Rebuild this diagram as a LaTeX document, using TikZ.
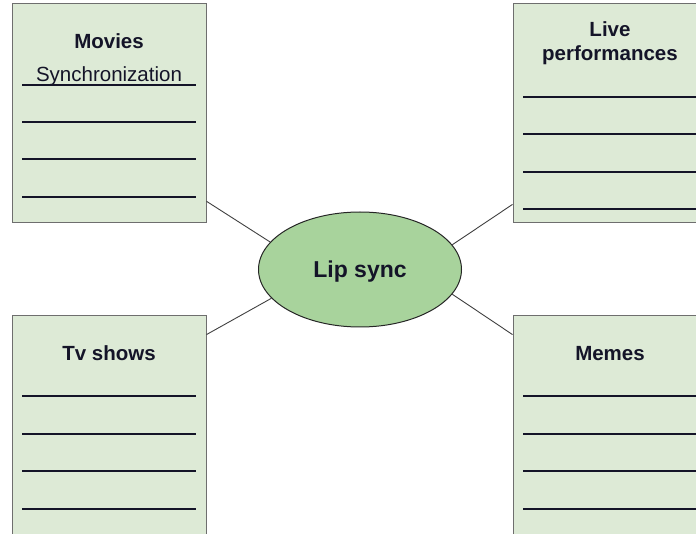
\documentclass[tikz,border=0pt]{standalone}
\usepackage{fontspec}
\setmainfont{Liberation Sans}
\usetikzlibrary{shapes.geometric}
\definecolor{notefill}{HTML}{DDEAD6}
\definecolor{notedraw}{HTML}{6E6E6E}
\definecolor{hubfill}{HTML}{A8D39C}
\definecolor{inkdark}{HTML}{141428}
\begin{document}
\begin{tikzpicture}[
    x=1pt, y=-1pt,
    note/.style={draw=notedraw, fill=notefill, line width=1pt,
      minimum width=194pt, minimum height=219pt, inner sep=0pt},
    hub/.style={ellipse, draw=black!85, fill=hubfill, line width=1pt,
      minimum width=203pt, minimum height=115pt, inner sep=0pt},
    title/.style={anchor=base, align=center, text=inkdark,
      font=\fontsize{20.5}{24}\selectfont\bfseries},
    entry/.style={anchor=base, text=inkdark, font=\fontsize{20.5}{24}\selectfont},
    rule/.style={inkdark, line width=1.7pt},
    link/.style={black!75, line width=0.9pt}]
  \useasboundingbox (0,0) rectangle (696,534);
  \clip (0,0) rectangle (696,534);
  % centre topic
  \node[hub] (lip) at (360,269.5) {};
  \node[title, font=\fontsize{23}{27}\selectfont\bfseries] (liptitle) at (360,277.5) {Lip sync};
  % the four notes
  \node[note] (movies) at (109,113.5) {};
  \node[note] (live) at (610,113.5) {};
  \node[note] (tv) at (109,425.5) {};
  \node[note] (memes) at (610,425.5) {};
  \node[title] (moviestitle) at (109,49) {Movies};
  \node[entry] (moviesentry) at (109,81.7) {Synchronization};
  \node[title] (livetitle) at (610,61) {Live\\performances};
  \node[title] (tvtitle) at (109,361) {Tv shows};
  \node[title] (memestitle) at (610,361) {Memes};
  % ruled lines
  \foreach \y in {85,122,159,197} \draw[rule] (22,\y) -- (196,\y);
  \foreach \y in {97,134,172,209} \draw[rule] (523,\y) -- (697,\y);
  \foreach \y in {396,434,471,509} {
    \draw[rule] (22,\y) -- (196,\y);
    \draw[rule] (523,\y) -- (697,\y);
  }
  % links
  \draw[link] (movies.-42.7) -- (lip.163.6);
  \draw[link] (live.-137.3) -- (lip.15);
  \draw[link] (tv.43) -- (lip.198.8);
  \draw[link] (memes.137.6) -- (lip.-15.2);
\end{tikzpicture}
\end{document}
